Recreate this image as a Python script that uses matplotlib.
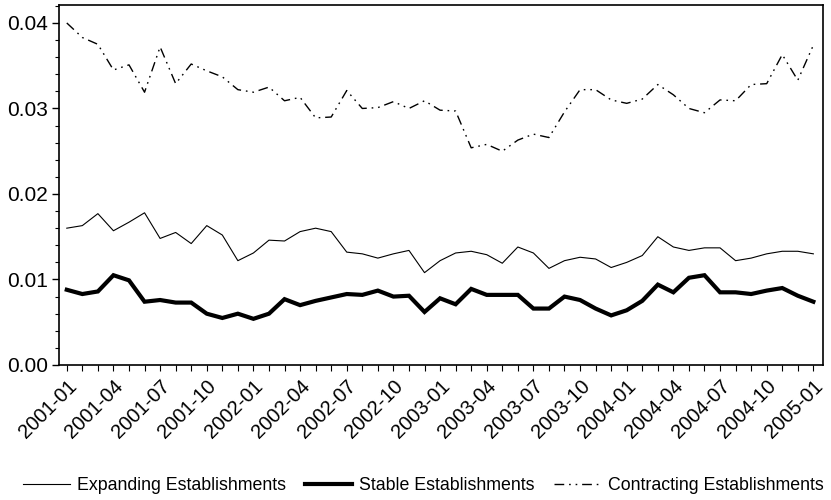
import numpy as np
import pandas as pd
import matplotlib
matplotlib.use("Agg")
import matplotlib.pyplot as plt
from matplotlib.ticker import MultipleLocator, FixedLocator

plt.rcParams['font.family'] = ['Liberation Sans', 'DejaVu Sans']

months = pd.period_range("2001-01", "2005-01", freq="M").strftime("%Y-%m").tolist()

expanding = [0.0160, 0.0163, 0.0177, 0.0157, 0.0167, 0.0178, 0.0148, 0.0155, 0.0142, 0.0163,
             0.0152, 0.0122, 0.0131, 0.0146, 0.0145, 0.0156, 0.0160, 0.0156, 0.0132, 0.0130,
             0.0125, 0.0130, 0.0134, 0.0108, 0.0122, 0.0131, 0.0133, 0.0129, 0.0119, 0.0138,
             0.0131, 0.0113, 0.0122, 0.0126, 0.0124, 0.0114, 0.0120, 0.0128, 0.0150, 0.0138,
             0.0134, 0.0137, 0.0137, 0.0122, 0.0125, 0.0130, 0.0133, 0.0133, 0.0130]

stable = [0.0088, 0.0083, 0.0086, 0.0105, 0.0099, 0.0074, 0.0076, 0.0073, 0.0073, 0.0060,
          0.0055, 0.0060, 0.0054, 0.0060, 0.0077, 0.0070, 0.0075, 0.0079, 0.0083, 0.0082,
          0.0087, 0.0080, 0.0081, 0.0062, 0.0078, 0.0071, 0.0089, 0.0082, 0.0082, 0.0082,
          0.0066, 0.0066, 0.0080, 0.0076, 0.0066, 0.0058, 0.0064, 0.0075, 0.0094, 0.0085,
          0.0102, 0.0105, 0.0085, 0.0085, 0.0083, 0.0087, 0.0090, 0.0081, 0.0074]

contracting = [0.0400, 0.0383, 0.0375, 0.0345, 0.0351, 0.0319, 0.0372, 0.0329, 0.0352, 0.0344,
               0.0337, 0.0322, 0.0319, 0.0325, 0.0309, 0.0313, 0.0289, 0.0290, 0.0321, 0.0300,
               0.0301, 0.0308, 0.0300, 0.0309, 0.0298, 0.0297, 0.0254, 0.0258, 0.0250, 0.0263,
               0.0270, 0.0266, 0.0296, 0.0322, 0.0322, 0.0310, 0.0306, 0.0311, 0.0328, 0.0316,
               0.0300, 0.0295, 0.0310, 0.0309, 0.0328, 0.0329, 0.0363, 0.0333, 0.0374]

labels = ["Expanding Establishments", "Stable Establishments", "Contracting Establishments"]

fig = plt.figure(figsize=(8.31, 5.00), dpi=100)
ax = fig.add_axes([0.071, 0.27, 0.919, 0.72])

x = np.arange(len(months))
ax.plot(x, expanding, color="black", linewidth=0.8, label=labels[0])
ax.plot(x, stable, color="black", linewidth=3.0, solid_joinstyle="miter", label=labels[1])
ax.plot(x, contracting, color="black", linewidth=1.0,
        dashes=(7, 3.5, 1.2, 3.5, 1.2, 3.5), label=labels[2])

ax.set_xlim(-0.5, 48.6)
ax.set_ylim(0.0, 0.0421)

ax.yaxis.set_major_locator(MultipleLocator(0.01))
ax.yaxis.set_minor_locator(MultipleLocator(0.002))
ax.yaxis.set_major_formatter(matplotlib.ticker.FormatStrFormatter("%.2f"))

major = list(range(0, len(months), 3))
ax.xaxis.set_major_locator(FixedLocator(major))
ax.xaxis.set_minor_locator(FixedLocator(list(x)))
ax.set_xticklabels([months[i] for i in major], rotation=45, ha="right",
                   rotation_mode="anchor", fontsize=14.5)

ax.tick_params(axis="y", which="major", labelsize=15, length=5, width=1, direction="out", pad=3)
ax.tick_params(axis="y", which="minor", length=3, width=0.8, direction="out")
ax.tick_params(axis="x", which="major", length=4, width=0.8, direction="out", pad=4)
ax.tick_params(axis="x", which="minor", length=4, width=0.8, direction="out")

for s in ax.spines.values():
    s.set_linewidth(1.2)
    s.set_color("black")

fig.legend(loc="center left", bbox_to_anchor=(0.028, 0.028), ncol=3, frameon=False,
           fontsize=12.8, handlelength=2.65, handletextpad=0.4, columnspacing=1.05,
           borderaxespad=0.0, borderpad=0.0)

fig.savefig("out.png", dpi=100)
